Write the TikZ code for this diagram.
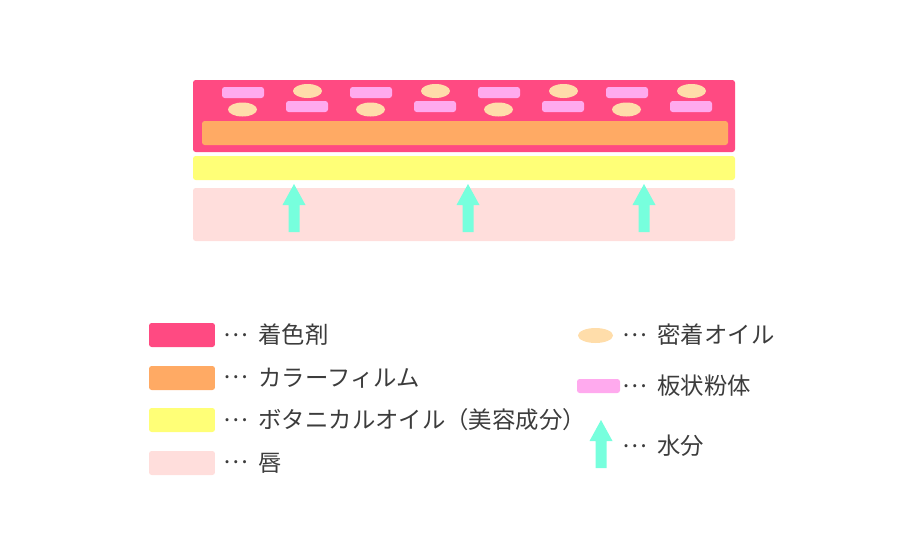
\documentclass[tikz,border=0pt]{standalone}
\usepackage{fontspec}
\setmainfont{Noto Sans CJK JP}
\definecolor{rouge}{RGB}{255,74,130}
\definecolor{film}{RGB}{255,170,100}
\definecolor{botanical}{RGB}{255,255,119}
\definecolor{lip}{RGB}{255,222,220}
\definecolor{oil}{RGB}{255,221,170}
\definecolor{powder}{RGB}{255,170,238}
\definecolor{water}{RGB}{119,255,221}
\definecolor{textgray}{RGB}{60,60,60}
\newcommand{\keydots}{\raisebox{0.32em}{…}\kern0.45em}
\begin{document}
\begin{tikzpicture}[x=0.02cm, y=-0.02cm,
  layer/.style={rounded corners=1.5pt},
  flake/.style={fill=powder, rounded corners=1.5pt},
  oildrop/.style={fill=oil},
  swatch/.style={rounded corners=1.5pt, minimum width=1.32cm, minimum height=0.48cm, inner sep=0pt},
  keylabel/.style={anchor=west, inner sep=0pt, text=textgray, font=\fontsize{13.3}{16}\selectfont}]
  \useasboundingbox (0,0) rectangle (902,551);
  %% 1. Layers
  \fill[rouge, layer] (193,80) rectangle (735,152);
  \fill[film, layer] (202,121) rectangle (728,145);
  \fill[botanical, layer] (193,156) rectangle (735,180);
  \fill[lip, layer] (193,188) rectangle (735,241);
  %% 2. Particles
  \foreach \i in {0,...,3} {
    \fill[flake] ({222+128*\i},87) rectangle ++(42,11);
    \fill[oildrop] ({307.5+128*\i},91) ellipse (14.5 and 7);
    \fill[oildrop] ({242.5+128*\i},109.5) ellipse (14.5 and 7);
    \fill[flake] ({286+128*\i},101) rectangle ++(42,11);
  }
  %% 3. Water arrows
  \foreach \x/\y in {294/184, 468/184, 644/184, 601/420} {
    \fill[water] (\x,\y) -- ++(11.5,21) -- ++(-6,0) -- ++(0,27) -- ++(-11,0)
      -- ++(0,-27) -- ++(-6,0) -- cycle;
  }
  %% 4. Legend, left
  \node[swatch, fill=rouge] (key-rouge) at (182,335) {};
  \node[swatch, fill=film] (key-film) at (182,378) {};
  \node[swatch, fill=botanical] (key-botanical) at (182,420) {};
  \node[swatch, fill=lip] (key-lip) at (182,463) {};
  \node[keylabel] (lbl-rouge) at (223,335) {\keydots 着色剤};
  \node[keylabel] (lbl-film) at (223,378) {\keydots カラーフィルム};
  \node[keylabel] (lbl-botanical) at (223,420) {\keydots ボタニカルオイル（美容成分）};
  \node[keylabel] (lbl-lip) at (223,463) {\keydots 唇};
  %% 5. Legend, right
  \fill[oildrop] (595.5,335.5) ellipse (17.5 and 7.5);
  \fill[flake] (577,379) rectangle (620,393);
  \node[keylabel] (lbl-oil) at (622,335) {\keydots 密着オイル};
  \node[keylabel] (lbl-powder) at (622,386) {\keydots 板状粉体};
  \node[keylabel] (lbl-water) at (622,446) {\keydots 水分};
\end{tikzpicture}
\end{document}
